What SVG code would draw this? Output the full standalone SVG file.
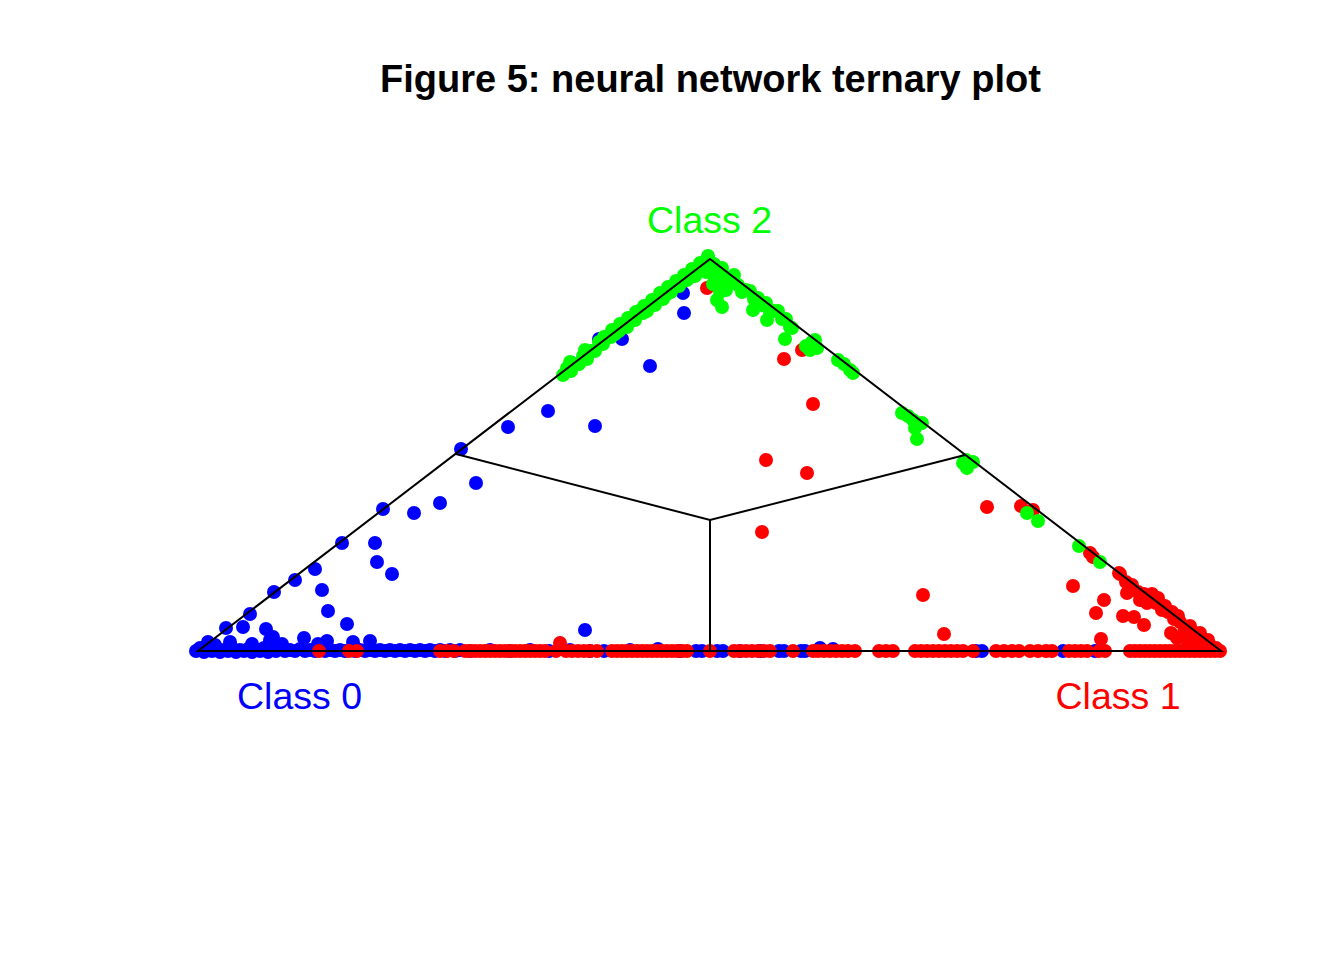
<svg xmlns="http://www.w3.org/2000/svg" width="1344" height="960" viewBox="0 0 1344 960">
<style>
.b{fill:#0000FF}.r{fill:#FF0000}.g{fill:#00FF00}
.ln{stroke:#000;stroke-width:2;fill:none}
.t{font-family:"Liberation Sans",Arial,sans-serif;text-anchor:middle}
</style>
<rect width="1344" height="960" fill="#fff"/>
<g id="points-class0-bottom" class="b">
<circle cx="196" cy="651" r="7"/><circle cx="200" cy="648" r="7"/><circle cx="204" cy="652" r="7"/><circle cx="208" cy="649" r="7"/><circle cx="212" cy="651" r="7"/><circle cx="216" cy="648" r="7"/><circle cx="220" cy="652" r="7"/><circle cx="224" cy="650" r="7"/><circle cx="228" cy="651" r="7"/><circle cx="232" cy="648" r="7"/><circle cx="236" cy="652" r="7"/><circle cx="240" cy="650" r="7"/><circle cx="244" cy="651" r="7"/><circle cx="248" cy="649" r="7"/><circle cx="252" cy="652" r="7"/><circle cx="256" cy="650" r="7"/><circle cx="260" cy="651" r="7"/><circle cx="264" cy="648" r="7"/><circle cx="268" cy="652" r="7"/><circle cx="272" cy="650" r="7"/><circle cx="276" cy="651" r="7"/><circle cx="280" cy="649" r="7"/><circle cx="285" cy="651" r="7"/><circle cx="290" cy="650" r="7"/><circle cx="295" cy="651" r="7"/><circle cx="300" cy="649" r="7"/><circle cx="305" cy="651" r="7"/><circle cx="310" cy="650" r="7"/><circle cx="315" cy="651" r="7"/><circle cx="320" cy="650" r="7"/><circle cx="325" cy="651" r="7"/><circle cx="330" cy="650" r="7"/><circle cx="335" cy="651" r="7"/><circle cx="340" cy="650" r="7"/><circle cx="345" cy="651" r="7"/><circle cx="350" cy="650" r="7"/><circle cx="355" cy="651" r="7"/><circle cx="360" cy="650" r="7"/><circle cx="365" cy="651" r="7"/><circle cx="370" cy="650" r="7"/><circle cx="375" cy="651" r="7"/><circle cx="380" cy="650" r="7"/><circle cx="385" cy="651" r="7"/><circle cx="390" cy="650" r="7"/><circle cx="395" cy="651" r="7"/><circle cx="400" cy="650" r="7"/><circle cx="405" cy="651" r="7"/><circle cx="410" cy="650" r="7"/><circle cx="415" cy="651" r="7"/><circle cx="420" cy="650" r="7"/><circle cx="425" cy="651" r="7"/><circle cx="430" cy="650" r="7"/><circle cx="435" cy="651" r="7"/><circle cx="440" cy="650" r="7"/><circle cx="445" cy="651" r="7"/><circle cx="450" cy="650" r="7"/><circle cx="455" cy="651" r="7"/><circle cx="460" cy="650" r="7"/>
<circle cx="470" cy="651" r="7"/><circle cx="490" cy="650" r="7"/><circle cx="510" cy="651" r="7"/><circle cx="530" cy="650" r="7"/><circle cx="549" cy="651" r="7"/><circle cx="570" cy="650" r="7"/><circle cx="590" cy="651" r="7"/><circle cx="604" cy="651" r="7"/><circle cx="630" cy="650" r="7"/><circle cx="658" cy="649" r="7"/><circle cx="680" cy="651" r="7"/><circle cx="696" cy="651" r="7"/><circle cx="702" cy="651" r="7"/><circle cx="717" cy="651" r="7"/><circle cx="723" cy="651" r="7"/><circle cx="740" cy="651" r="7"/><circle cx="760" cy="651" r="7"/><circle cx="779" cy="651" r="7"/><circle cx="784" cy="651" r="7"/><circle cx="801" cy="651" r="7"/><circle cx="805" cy="651" r="7"/><circle cx="820" cy="648" r="7"/><circle cx="833" cy="649" r="7"/><circle cx="976" cy="651" r="7"/><circle cx="982" cy="651" r="7"/><circle cx="1063" cy="651" r="7"/><circle cx="1095" cy="651" r="7"/>
</g>
<g id="points-class0-inner" class="b">
<circle cx="208" cy="642" r="7"/><circle cx="215" cy="645" r="7"/><circle cx="226" cy="628" r="7"/><circle cx="230" cy="642" r="7"/><circle cx="243" cy="627" r="7"/><circle cx="250" cy="614" r="7"/><circle cx="252" cy="644" r="7"/><circle cx="266" cy="629" r="7"/><circle cx="270" cy="640" r="7"/><circle cx="273" cy="637" r="7"/><circle cx="274" cy="592" r="7"/><circle cx="282" cy="644" r="7"/><circle cx="295" cy="580" r="7"/><circle cx="304" cy="638" r="7"/><circle cx="315" cy="569" r="7"/><circle cx="318" cy="644" r="7"/><circle cx="322" cy="590" r="7"/><circle cx="327" cy="641" r="7"/><circle cx="328" cy="611" r="7"/><circle cx="342" cy="543" r="7"/><circle cx="347" cy="624" r="7"/><circle cx="353" cy="642" r="7"/><circle cx="370" cy="641" r="7"/><circle cx="375" cy="543" r="7"/><circle cx="377" cy="562" r="7"/><circle cx="383" cy="509" r="7"/><circle cx="392" cy="574" r="7"/><circle cx="414" cy="513" r="7"/><circle cx="440" cy="503" r="7"/><circle cx="461" cy="449" r="7"/><circle cx="476" cy="483" r="7"/><circle cx="508" cy="427" r="7"/><circle cx="548" cy="411" r="7"/><circle cx="585" cy="630" r="7"/><circle cx="595" cy="426" r="7"/><circle cx="622" cy="339" r="7"/><circle cx="650" cy="366" r="7"/><circle cx="684" cy="313" r="7"/><circle cx="683" cy="293" r="7"/><circle cx="599" cy="339" r="7"/><circle cx="572" cy="363" r="7"/>
</g>
<g id="points-class1-bottom" class="r">
<circle cx="319" cy="651" r="7"/><circle cx="349" cy="651" r="7"/><circle cx="357" cy="651" r="7"/><circle cx="440" cy="651" r="7"/><circle cx="447" cy="651" r="7"/><circle cx="454" cy="651" r="7"/>
<circle cx="465" cy="651" r="7"/><circle cx="470" cy="651" r="7"/><circle cx="475" cy="651" r="7"/><circle cx="480" cy="651" r="7"/><circle cx="485" cy="651" r="7"/><circle cx="490" cy="651" r="7"/><circle cx="495" cy="651" r="7"/><circle cx="500" cy="651" r="7"/><circle cx="505" cy="651" r="7"/><circle cx="510" cy="651" r="7"/><circle cx="515" cy="651" r="7"/><circle cx="520" cy="651" r="7"/><circle cx="525" cy="651" r="7"/><circle cx="530" cy="651" r="7"/><circle cx="535" cy="651" r="7"/><circle cx="540" cy="651" r="7"/><circle cx="545" cy="651" r="7"/>
<circle cx="556" cy="651" r="7"/><circle cx="560" cy="643" r="7"/><circle cx="566" cy="651" r="7"/><circle cx="572" cy="651" r="7"/><circle cx="578" cy="651" r="7"/><circle cx="584" cy="651" r="7"/><circle cx="590" cy="651" r="7"/><circle cx="597" cy="651" r="7"/>
<circle cx="612" cy="651" r="7"/><circle cx="617" cy="651" r="7"/><circle cx="622" cy="651" r="7"/><circle cx="627" cy="651" r="7"/><circle cx="632" cy="651" r="7"/><circle cx="637" cy="651" r="7"/><circle cx="642" cy="651" r="7"/><circle cx="647" cy="651" r="7"/><circle cx="652" cy="651" r="7"/><circle cx="657" cy="651" r="7"/><circle cx="662" cy="651" r="7"/><circle cx="667" cy="651" r="7"/><circle cx="672" cy="651" r="7"/><circle cx="677" cy="651" r="7"/><circle cx="682" cy="651" r="7"/><circle cx="687" cy="651" r="7"/><circle cx="710" cy="651" r="7"/>
<circle cx="734" cy="651" r="7"/><circle cx="740" cy="651" r="7"/><circle cx="746" cy="651" r="7"/><circle cx="752" cy="651" r="7"/><circle cx="758" cy="651" r="7"/><circle cx="764" cy="651" r="7"/><circle cx="770" cy="651" r="7"/><circle cx="793" cy="651" r="7"/>
<circle cx="813" cy="651" r="7"/><circle cx="818" cy="651" r="7"/><circle cx="824" cy="651" r="7"/><circle cx="830" cy="651" r="7"/><circle cx="836" cy="651" r="7"/><circle cx="842" cy="651" r="7"/><circle cx="848" cy="651" r="7"/><circle cx="855" cy="651" r="7"/>
<circle cx="879" cy="651" r="7"/><circle cx="886" cy="651" r="7"/><circle cx="893" cy="651" r="7"/>
<circle cx="915" cy="651" r="7"/><circle cx="921" cy="651" r="7"/><circle cx="927" cy="651" r="7"/><circle cx="933" cy="651" r="7"/><circle cx="939" cy="651" r="7"/><circle cx="945" cy="651" r="7"/><circle cx="951" cy="651" r="7"/><circle cx="957" cy="651" r="7"/><circle cx="963" cy="651" r="7"/><circle cx="973" cy="651" r="7"/>
<circle cx="996" cy="651" r="7"/><circle cx="1004" cy="651" r="7"/><circle cx="1012" cy="651" r="7"/><circle cx="1019" cy="651" r="7"/><circle cx="1030" cy="651" r="7"/><circle cx="1038" cy="651" r="7"/><circle cx="1046" cy="651" r="7"/><circle cx="1052" cy="651" r="7"/>
<circle cx="1069" cy="651" r="7"/><circle cx="1075" cy="651" r="7"/><circle cx="1081" cy="651" r="7"/><circle cx="1087" cy="651" r="7"/><circle cx="1099" cy="651" r="7"/><circle cx="1105" cy="651" r="7"/>
<circle cx="1130" cy="651" r="7"/><circle cx="1135" cy="651" r="7"/><circle cx="1140" cy="651" r="7"/><circle cx="1145" cy="651" r="7"/><circle cx="1150" cy="651" r="7"/><circle cx="1155" cy="651" r="7"/><circle cx="1160" cy="651" r="7"/><circle cx="1165" cy="651" r="7"/><circle cx="1170" cy="651" r="7"/><circle cx="1175" cy="651" r="7"/><circle cx="1180" cy="651" r="7"/><circle cx="1185" cy="651" r="7"/><circle cx="1190" cy="651" r="7"/><circle cx="1195" cy="651" r="7"/><circle cx="1200" cy="651" r="7"/><circle cx="1205" cy="651" r="7"/><circle cx="1210" cy="651" r="7"/><circle cx="1215" cy="651" r="7"/><circle cx="1220" cy="651" r="7"/>
</g>
<g id="points-class1-inner" class="r">
<circle cx="707" cy="288" r="7"/><circle cx="784" cy="359" r="7"/><circle cx="802" cy="350" r="7"/><circle cx="813" cy="404" r="7"/><circle cx="766" cy="460" r="7"/><circle cx="807" cy="473" r="7"/><circle cx="762" cy="532" r="7"/><circle cx="923" cy="595" r="7"/><circle cx="944" cy="634" r="7"/><circle cx="987" cy="507" r="7"/><circle cx="1021" cy="506" r="7"/><circle cx="1033" cy="510" r="7"/><circle cx="1090" cy="553" r="7"/><circle cx="1093" cy="557" r="7"/><circle cx="1119" cy="573" r="7"/><circle cx="1073" cy="586" r="7"/><circle cx="1104" cy="600" r="7"/><circle cx="1096" cy="613" r="7"/><circle cx="1101" cy="639" r="7"/>
<circle cx="1127" cy="593" r="7"/><circle cx="1140" cy="600" r="7"/><circle cx="1147" cy="603" r="7"/><circle cx="1123" cy="616" r="7"/><circle cx="1134" cy="617" r="7"/><circle cx="1144" cy="625" r="7"/><circle cx="1171" cy="633" r="7"/><circle cx="1177" cy="638" r="7"/>
<circle cx="1120" cy="574" r="7"/><circle cx="1126" cy="582" r="7"/><circle cx="1132" cy="585" r="7"/><circle cx="1138" cy="592" r="7"/><circle cx="1144" cy="594" r="7"/><circle cx="1150" cy="601" r="7"/><circle cx="1156" cy="603" r="7"/><circle cx="1162" cy="610" r="7"/><circle cx="1168" cy="612" r="7"/><circle cx="1174" cy="619" r="7"/><circle cx="1180" cy="622" r="7"/><circle cx="1186" cy="629" r="7"/><circle cx="1192" cy="631" r="7"/><circle cx="1198" cy="637" r="7"/><circle cx="1204" cy="640" r="7"/><circle cx="1210" cy="645" r="7"/><circle cx="1216" cy="648" r="7"/>
<circle cx="1152" cy="594" r="7"/><circle cx="1158" cy="598" r="7"/><circle cx="1165" cy="606" r="7"/><circle cx="1172" cy="612" r="7"/><circle cx="1178" cy="616" r="7"/><circle cx="1190" cy="626" r="7"/><circle cx="1200" cy="633" r="7"/><circle cx="1208" cy="640" r="7"/><circle cx="1184" cy="632" r="7"/><circle cx="1194" cy="640" r="7"/><circle cx="1188" cy="644" r="7"/><circle cx="1200" cy="645" r="7"/>
</g>
<g id="points-class2" class="g">
<circle cx="563" cy="375" r="7"/><circle cx="567" cy="368" r="7"/><circle cx="571" cy="371" r="7"/><circle cx="575" cy="364" r="7"/><circle cx="579" cy="364" r="7"/><circle cx="583" cy="356" r="7"/><circle cx="587" cy="359" r="7"/><circle cx="591" cy="351" r="7"/><circle cx="595" cy="351" r="7"/><circle cx="599" cy="342" r="7"/><circle cx="603" cy="344" r="7"/><circle cx="607" cy="337" r="7"/><circle cx="611" cy="337" r="7"/><circle cx="615" cy="334" r="7"/><circle cx="619" cy="331" r="7"/><circle cx="623" cy="326" r="7"/><circle cx="627" cy="327" r="7"/><circle cx="631" cy="321" r="7"/><circle cx="635" cy="320" r="7"/><circle cx="639" cy="311" r="7"/><circle cx="643" cy="313" r="7"/><circle cx="647" cy="311" r="7"/><circle cx="651" cy="305" r="7"/><circle cx="655" cy="305" r="7"/><circle cx="659" cy="298" r="7"/><circle cx="663" cy="299" r="7"/><circle cx="667" cy="294" r="7"/><circle cx="671" cy="292" r="7"/><circle cx="675" cy="285" r="7"/><circle cx="679" cy="286" r="7"/><circle cx="683" cy="281" r="7"/><circle cx="687" cy="280" r="7"/><circle cx="691" cy="276" r="7"/><circle cx="695" cy="276" r="7"/><circle cx="699" cy="270" r="7"/><circle cx="703" cy="269" r="7"/><circle cx="707" cy="263" r="7"/><circle cx="710" cy="262" r="7"/>
<circle cx="612" cy="330" r="7"/><circle cx="620" cy="324" r="7"/><circle cx="628" cy="318" r="7"/><circle cx="636" cy="312" r="7"/><circle cx="644" cy="306" r="7"/><circle cx="652" cy="300" r="7"/><circle cx="660" cy="293" r="7"/><circle cx="668" cy="287" r="7"/><circle cx="676" cy="281" r="7"/><circle cx="684" cy="275" r="7"/><circle cx="692" cy="269" r="7"/><circle cx="700" cy="263" r="7"/><circle cx="708" cy="256" r="7"/><circle cx="585" cy="350" r="7"/><circle cx="570" cy="362" r="7"/><circle cx="604" cy="337" r="7"/>
<circle cx="706" cy="272" r="7"/><circle cx="712" cy="270" r="7"/><circle cx="715" cy="277" r="7"/><circle cx="713" cy="284" r="7"/><circle cx="719" cy="283" r="7"/><circle cx="720" cy="292" r="7"/><circle cx="717" cy="300" r="7"/><circle cx="722" cy="307" r="7"/><circle cx="726" cy="290" r="7"/>
<circle cx="714" cy="264" r="7"/><circle cx="718" cy="271" r="7"/><circle cx="722" cy="268" r="7"/><circle cx="726" cy="279" r="7"/><circle cx="730" cy="278" r="7"/><circle cx="734" cy="275" r="7"/><circle cx="738" cy="285" r="7"/><circle cx="742" cy="292" r="7"/><circle cx="746" cy="290" r="7"/><circle cx="750" cy="291" r="7"/><circle cx="754" cy="299" r="7"/><circle cx="758" cy="298" r="7"/><circle cx="762" cy="305" r="7"/><circle cx="766" cy="303" r="7"/><circle cx="770" cy="312" r="7"/><circle cx="774" cy="311" r="7"/><circle cx="778" cy="311" r="7"/><circle cx="782" cy="319" r="7"/><circle cx="786" cy="319" r="7"/><circle cx="790" cy="327" r="7"/>
<circle cx="753" cy="310" r="7"/><circle cx="767" cy="320" r="7"/><circle cx="785" cy="339" r="7"/><circle cx="792" cy="328" r="7"/><circle cx="806" cy="346" r="7"/><circle cx="812" cy="342" r="7"/><circle cx="810" cy="350" r="7"/><circle cx="817" cy="348" r="7"/><circle cx="815" cy="340" r="7"/><circle cx="838" cy="360" r="7"/><circle cx="844" cy="364" r="7"/><circle cx="850" cy="370" r="7"/><circle cx="853" cy="373" r="7"/>
<circle cx="902" cy="413" r="7"/><circle cx="908" cy="416" r="7"/><circle cx="913" cy="420" r="7"/><circle cx="922" cy="423" r="7"/><circle cx="915" cy="428" r="7"/><circle cx="917" cy="439" r="7"/><circle cx="963" cy="463" r="7"/><circle cx="967" cy="468" r="7"/><circle cx="973" cy="462" r="7"/><circle cx="966" cy="460" r="7"/>
<circle cx="1027" cy="513" r="7"/><circle cx="1038" cy="521" r="7"/><circle cx="1079" cy="546" r="7"/><circle cx="1100" cy="562" r="7"/>
</g>
<g id="connectors">
<polygon class="ln" points="198,651 1221,651 710,259"/>
<polyline class="ln" points="456,454 710,520 965,455"/>
<line class="ln" x1="710" y1="520" x2="710" y2="651"/>
</g>
<g id="title"><text class="t" x="710.5" y="92" font-size="38" font-weight="bold" fill="#000">Figure 5: neural network ternary plot</text></g>
<g id="label-class2"><text class="t" x="709.5" y="233" font-size="37.5" fill="#00FF00">Class 2</text></g>
<g id="label-class0"><text class="t" x="299.5" y="709" font-size="37.5" fill="#0000FF">Class 0</text></g>
<g id="label-class1"><text class="t" x="1118" y="709" font-size="37.5" fill="#FF0000">Class 1</text></g>
</svg>
